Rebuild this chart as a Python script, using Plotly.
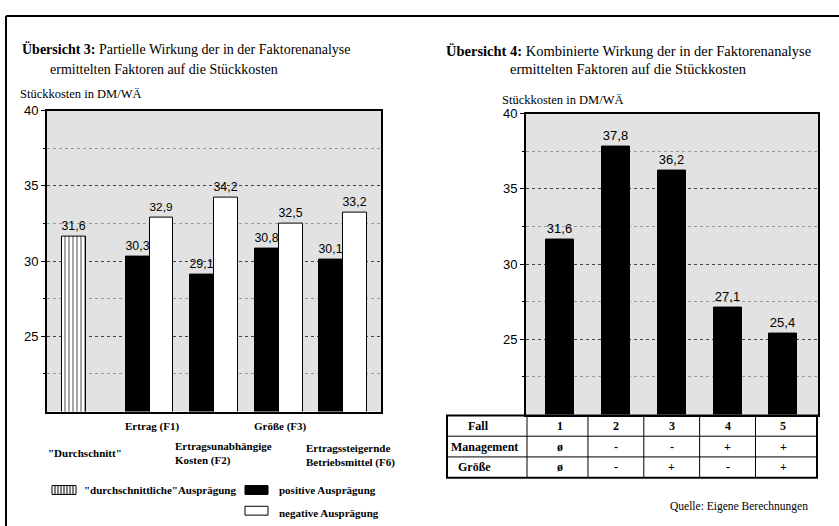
import plotly.graph_objects as go

W, H = 839, 526


def px(x):
    return x / W


def py(y):
    return 1 - y / H


SERIF = "Liberation Serif"
SANS = "Liberation Sans"

# ---------------- data: Übersicht 3 ----------------
factor_keys = ["Durchschnitt", "F1", "F2", "F3", "F6"]
factor_labels = ['"Durchschnitt"', "Ertrag (F1)", "Ertragsunabhängige<br>Kosten (F2)",
                 "Größe (F3)", "Ertragssteigernde<br>Betriebsmittel (F6)"]
average_value = [31.6]
positive_values = [30.3, 29.1, 30.8, 30.1]
negative_values = [32.9, 34.2, 32.5, 33.2]

# ---------------- data: Übersicht 4 ----------------
cases = ["1", "2", "3", "4", "5"]
combined_values = [31.6, 37.8, 36.2, 27.1, 25.4]
management = ["ø", "-", "-", "+", "+"]
groesse = ["ø", "-", "+", "-", "+"]
row_labels = ["Fall", "Management", "Größe"]

y_ticks = [25, 30, 35, 40]
y_minor = [22.5, 27.5, 32.5, 37.5]

fig = go.Figure()

BW = 0.372
txt_font = dict(family=SANS, size=13, color="black")

fig.add_trace(go.Bar(
    x=[factor_keys[0]], y=average_value, width=BW, offset=-BW / 2 - 0.17,
    marker=dict(color="white", line=dict(color="black", width=1),
                pattern=dict(shape="|", fgcolor="black", bgcolor="white", size=4, solidity=0.35)),
    texttemplate="%{y:.1f}", textposition="outside", textfont=txt_font, cliponaxis=False,
    xaxis="x", yaxis="y", showlegend=False, hoverinfo="skip"))
fig.add_trace(go.Bar(
    x=factor_keys[1:], y=positive_values, width=BW, offset=-BW,
    marker=dict(color="black", line=dict(color="black", width=1)),
    texttemplate="%{y:.1f}", textposition="outside", textfont=txt_font, cliponaxis=False,
    xaxis="x", yaxis="y", showlegend=False, hoverinfo="skip"))
fig.add_trace(go.Bar(
    x=factor_keys[1:], y=negative_values, width=BW, offset=0,
    marker=dict(color="white", line=dict(color="black", width=1)),
    texttemplate="%{y:.1f}", textposition="outside", textfont=txt_font, cliponaxis=False,
    xaxis="x", yaxis="y", showlegend=False, hoverinfo="skip"))

fig.add_trace(go.Bar(
    x=cases, y=combined_values, width=0.5,
    marker=dict(color="black", line=dict(color="black", width=1)),
    texttemplate="%{y:.1f}", textposition="outside", textfont=txt_font, cliponaxis=False,
    xaxis="x2", yaxis="y2", showlegend=False, hoverinfo="skip"))

axis_common = dict(showline=True, mirror=True, linewidth=2, linecolor="black", zeroline=False)
yaxis_common = dict(
    range=[20, 40], tickvals=y_ticks, ticks="outside", ticklen=4, tickcolor="black",
    tickfont=dict(family=SANS, size=13, color="black"),
    showgrid=True, gridcolor="#444", griddash="dot", gridwidth=1,
    minor=dict(tickvals=y_minor, ticks="outside", ticklen=2, tickcolor="black",
               showgrid=True, gridcolor="#9a9a9a", griddash="dot"),
    **axis_common)

fig.update_layout(
    width=W, height=H, margin=dict(l=0, r=0, t=0, b=0),
    paper_bgcolor="white", plot_bgcolor="#e2e2e2",
    separators=",.", barmode="overlay", bargap=0,
    font=dict(family=SERIF, size=12, color="black"),
    xaxis=dict(domain=[px(47), px(381)], type="category", categoryarray=factor_keys,
               range=[-0.589, 4.589], showticklabels=False, ticks="", showgrid=False,
               anchor="y", **axis_common),
    yaxis=dict(domain=[py(410), py(105)], anchor="x", **yaxis_common),
    xaxis2=dict(domain=[px(526), px(818)], type="category", categoryarray=cases,
                range=[-0.61, 4.62], showticklabels=False, ticks="", showgrid=False,
                anchor="y2", **axis_common),
    yaxis2=dict(domain=[py(413), py(108)], anchor="x2", **yaxis_common),
)

ann = []
# titles
ann.append(dict(text="<b>Übersicht 3:</b> Partielle Wirkung der in der Faktorenanalyse",
                x=px(20), y=py(43), xanchor="left", yanchor="middle", size=14))
ann.append(dict(text="ermittelten Faktoren auf die Stückkosten",
                x=px(164), y=py(63), xanchor="center", yanchor="middle", size=14))
ann.append(dict(text="<b>Übersicht 4:</b> Kombinierte Wirkung der in der Faktorenanalyse",
                x=px(628), y=py(45), xanchor="center", yanchor="middle", size=14.5))
ann.append(dict(text="ermittelten Faktoren auf die Stückkosten",
                x=px(628), y=py(63), xanchor="center", yanchor="middle", size=14.5))
for a in ann:
    s = a.pop("size")
    a.update(xref="paper", yref="paper", showarrow=False,
             font=dict(family=SERIF, size=s, color="black"))

unit_ann = [
    dict(text="Stückkosten in DM/WÄ", x=px(18), y=py(88)),
    dict(text="Stückkosten in DM/WÄ", x=px(500), y=py(94)),
]
for a in unit_ann:
    a.update(xref="paper", yref="paper", xanchor="left", yanchor="middle", showarrow=False,
             font=dict(family=SERIF, size=12.5, color="black"))
ann += unit_ann

# category labels (staggered)
label_y = [452, 425, 453, 425, 455]
label_dx = [0, 2, 9, 2, 7]
label_align = ["center", "center", "left", "center", "left"]
for i, (lab, yy, dx, al) in enumerate(zip(factor_labels, label_y, label_dx, label_align)):
    ann.append(dict(text=f"<b>{lab}</b>", x=i, xref="x", y=py(yy), yref="paper",
                    xanchor="center", yanchor="middle", xshift=dx, align=al,
                    showarrow=False, font=dict(family=SERIF, size=11, color="black")))

# legend texts
leg_texts = [
    ('"durchschnittliche"Ausprägung', 82, 490),
    ("positive Ausprägung", 277, 490),
    ("negative Ausprägung", 277, 513),
]
for t, xx, yy in leg_texts:
    ann.append(dict(text=f"<b>{t}</b>", x=px(xx), y=py(yy), xref="paper", yref="paper",
                    xanchor="left", yanchor="middle", showarrow=False,
                    font=dict(family=SERIF, size=11, color="black")))

ann.append(dict(text="Quelle: Eigene Berechnungen", x=px(810), y=py(506), xref="paper",
                yref="paper", xanchor="right", yanchor="middle", showarrow=False,
                font=dict(family=SERIF, size=11.5, color="black")))

# ---------- table under Übersicht 4 (cells aligned to the case axis) ----------
T_TOP, ROW_H, T_LEFT, T_RIGHT = 414, 21, 447, 817
row_label_x = [466, 449, 456]
table_rows = [cases, management, groesse]
tbl_font = dict(family=SERIF, size=12, color="black")
for r, (lab, vals) in enumerate(zip(row_labels, table_rows)):
    yc = T_TOP + ROW_H * (r + 0.5)
    ann.append(dict(text=f"<b>{lab}</b>", x=px(row_label_x[r]), y=py(yc), xref="paper",
                    yref="paper", xanchor="left", yanchor="middle", showarrow=False,
                    font=tbl_font))
    for ci, v in enumerate(vals):
        ann.append(dict(text=f"<b>{v}</b>", x=ci, xref="x2", y=py(yc), yref="paper",
                        xanchor="center", yanchor="middle", showarrow=False, font=tbl_font))

shapes = []
# outer frame
shapes.append(dict(type="line", xref="paper", yref="paper", x0=px(6), x1=px(6), y0=0, y1=py(9),
                   line=dict(color="black", width=2)))
shapes.append(dict(type="line", xref="paper", yref="paper", x0=px(6), x1=1, y0=py(9), y1=py(9),
                   line=dict(color="black", width=2)))
# table grid
n_rows = len(row_labels)
T_BOT = T_TOP + ROW_H * n_rows
for r in range(1, n_rows):
    yy = T_TOP + ROW_H * r
    shapes.append(dict(type="line", xref="paper", yref="paper", x0=px(T_LEFT), x1=px(T_RIGHT),
                       y0=py(yy), y1=py(yy), line=dict(color="black", width=1)))
shapes.append(dict(type="line", xref="paper", yref="paper", x0=px(527), x1=px(527),
                   y0=py(T_BOT), y1=py(T_TOP), line=dict(color="black", width=1)))
for i in range(len(cases) - 1):
    shapes.append(dict(type="line", xref="x2", yref="paper", x0=i + 0.5, x1=i + 0.5,
                       y0=py(T_BOT), y1=py(T_TOP), line=dict(color="black", width=1)))
shapes.append(dict(type="rect", xref="paper", yref="paper", x0=px(T_LEFT), x1=px(T_RIGHT),
                   y0=py(T_BOT), y1=py(T_TOP), line=dict(color="black", width=2)))

# legend swatches
shapes.append(dict(type="rect", xref="paper", yref="paper", x0=px(52), x1=px(76), y0=py(494), y1=py(485),
                   fillcolor="white", line=dict(color="black", width=1)))
for i in range(1, 8):
    xx = 52 + i * 3
    shapes.append(dict(type="line", xref="paper", yref="paper", x0=px(xx), x1=px(xx),
                       y0=py(494), y1=py(485), line=dict(color="black", width=1)))
shapes.append(dict(type="rect", xref="paper", yref="paper", x0=px(245), x1=px(268), y0=py(494), y1=py(485),
                   fillcolor="black", line=dict(color="black", width=1)))
shapes.append(dict(type="rect", xref="paper", yref="paper", x0=px(245), x1=px(268), y0=py(515), y1=py(506),
                   fillcolor="white", line=dict(color="black", width=1)))

fig.update_layout(annotations=ann, shapes=shapes)

post = ("document.body.style.margin='0';document.body.style.padding='0';"
        "var d=document.getElementById('{plot_id}');"
        "d.style.position='absolute';d.style.left='0px';d.style.top='0px';")
fig.write_html("out.html", post_script=post, config={"displayModeBar": False})
